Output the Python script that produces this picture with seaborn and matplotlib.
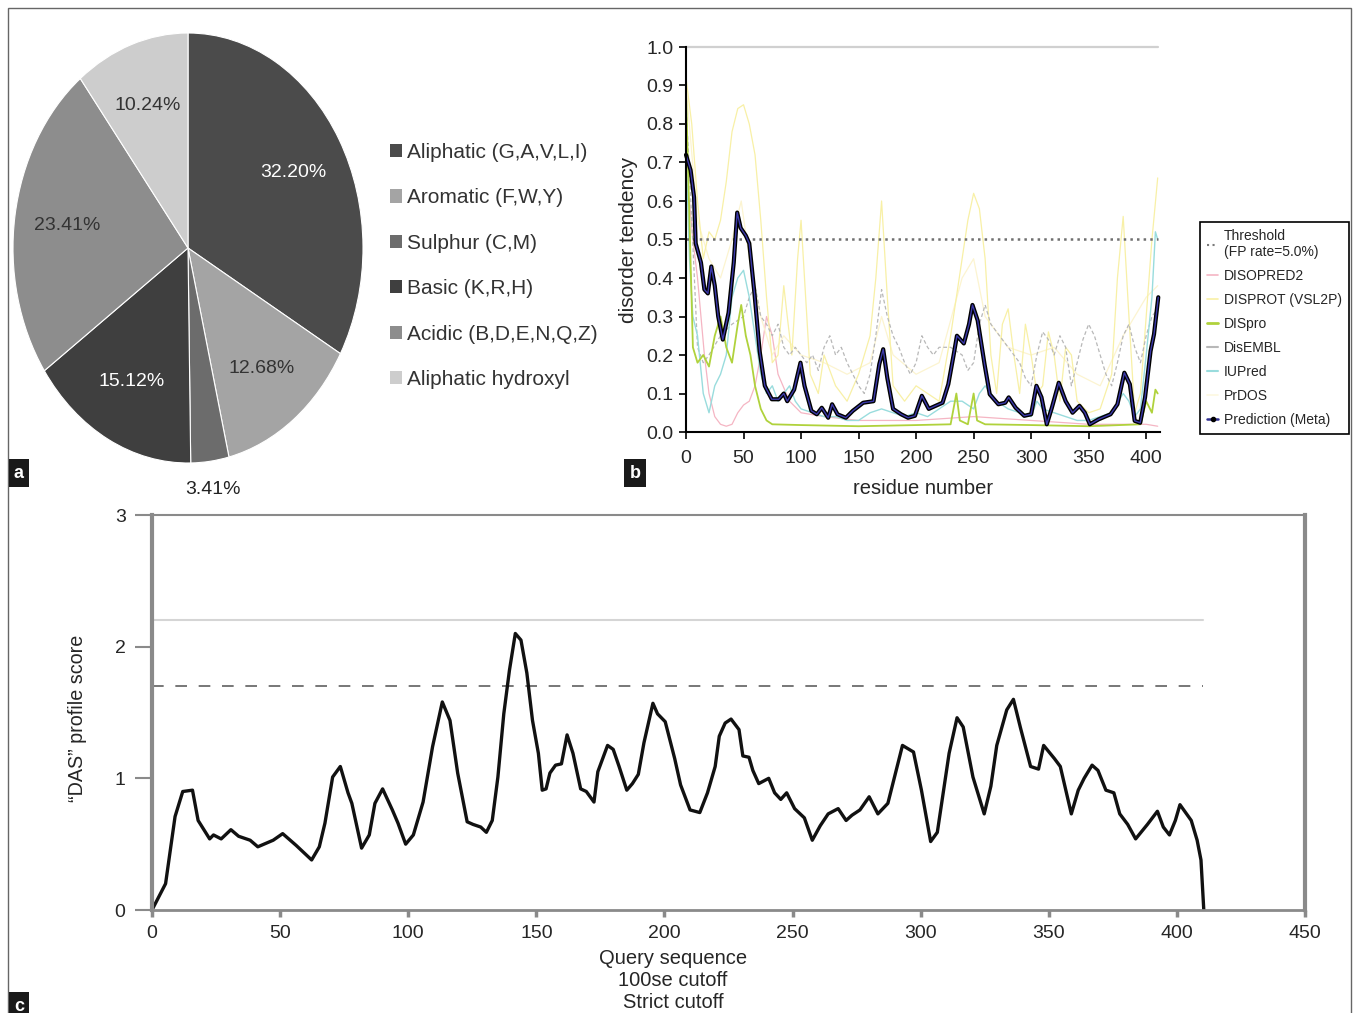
import numpy as np
import pandas as pd
import seaborn as sns
import matplotlib.pyplot as plt
from matplotlib.lines import Line2D
from matplotlib.patches import Patch, Rectangle

# ---- panel a: amino acid composition ----
pie_labels = ["Aliphatic (G,A,V,L,I)", "Aromatic (F,W,Y)", "Sulphur (C,M)",
              "Basic (K,R,H)", "Acidic (B,D,E,N,Q,Z)", "Aliphatic hydroxyl"]
pie_values = [32.20, 12.68, 3.41, 15.12, 23.41, 10.24]
pie_texts = ["32.20%", "12.68%", "3.41%", "15.12%", "23.41%", "10.24%"]
pie_colors = ["#4b4b4b", "#a4a4a4", "#6c6c6c", "#3f3f3f", "#8d8d8d", "#cdcdcd"]
pie_text_colors = ["white", "#333333", "#222222", "white", "#333333", "#333333"]

# ---- panel b: disorder predictors ----
threshold_b = 0.5
top_line_b = 1.0

disopred_x = [0, 3, 6, 10, 13, 16, 20, 25, 30, 35, 40, 45, 50, 55, 60, 65, 70, 75, 80, 90,
              100, 120, 150, 200, 250, 300, 350, 400, 410]
disopred_y = [0.65, 0.60, 0.50, 0.40, 0.30, 0.20, 0.10, 0.04, 0.02, 0.015, 0.02, 0.05, 0.07, 0.08,
              0.12, 0.20, 0.30, 0.25, 0.15, 0.08, 0.05, 0.04, 0.03, 0.03, 0.04, 0.03, 0.02, 0.02, 0.015]

disprot_x = [0, 5, 10, 15, 20, 25, 30, 35, 40, 45, 50, 55, 60, 65, 70, 75, 80, 85, 88, 92, 97, 100,
             103, 108, 115, 120, 130, 140, 150, 160, 165, 170, 175, 180, 190, 200, 210, 220, 230,
             240, 245, 250, 255, 260, 265, 270, 275, 280, 285, 290, 295, 300, 305, 310, 315, 320,
             325, 330, 335, 340, 350, 360, 370, 375, 380, 385, 390, 395, 400, 405, 410]
disprot_y = [0.92, 0.80, 0.60, 0.45, 0.52, 0.50, 0.55, 0.65, 0.78, 0.84, 0.85, 0.80, 0.72, 0.55,
             0.35, 0.18, 0.20, 0.38, 0.30, 0.20, 0.45, 0.55, 0.40, 0.15, 0.10, 0.20, 0.12, 0.08,
             0.15, 0.25, 0.40, 0.60, 0.35, 0.12, 0.08, 0.12, 0.10, 0.08, 0.25, 0.45, 0.55, 0.62,
             0.58, 0.45, 0.20, 0.10, 0.28, 0.32, 0.20, 0.10, 0.28, 0.20, 0.10, 0.12, 0.26, 0.20,
             0.08, 0.22, 0.20, 0.08, 0.05, 0.06, 0.15, 0.40, 0.56, 0.30, 0.05, 0.10, 0.30, 0.50, 0.66]

dispro_x = [0, 3, 6, 10, 15, 20, 25, 30, 35, 40, 45, 48, 52, 56, 60, 65, 70, 75, 100, 150, 200,
            230, 235, 238, 245, 250, 253, 260, 300, 350, 395, 400, 405, 408, 410]
dispro_y = [0.88, 0.55, 0.22, 0.18, 0.20, 0.17, 0.25, 0.30, 0.22, 0.18, 0.28, 0.33, 0.25, 0.20,
            0.12, 0.06, 0.03, 0.02, 0.018, 0.015, 0.018, 0.02, 0.10, 0.03, 0.02, 0.10, 0.03, 0.02,
            0.018, 0.015, 0.02, 0.08, 0.05, 0.11, 0.10]

disembl_x = [0, 5, 10, 15, 20, 30, 40, 50, 55, 60, 65, 70, 75, 80, 85, 90, 95, 100, 105, 110, 115,
             120, 125, 130, 135, 140, 145, 150, 155, 160, 165, 170, 175, 180, 185, 190, 195, 200,
             205, 210, 215, 220, 230, 240, 245, 250, 255, 260, 265, 270, 275, 280, 285, 290, 295,
             300, 305, 310, 315, 320, 325, 330, 335, 340, 345, 350, 355, 360, 365, 370, 375, 380,
             385, 390, 395, 400, 405, 410]
disembl_y = [0.85, 0.55, 0.22, 0.18, 0.20, 0.25, 0.28, 0.30, 0.35, 0.38, 0.30, 0.28, 0.25, 0.28,
             0.22, 0.20, 0.22, 0.20, 0.18, 0.20, 0.16, 0.22, 0.25, 0.20, 0.22, 0.18, 0.15, 0.12,
             0.10, 0.15, 0.25, 0.37, 0.30, 0.25, 0.22, 0.18, 0.15, 0.18, 0.25, 0.22, 0.20, 0.22,
             0.22, 0.20, 0.16, 0.18, 0.28, 0.33, 0.28, 0.26, 0.24, 0.22, 0.20, 0.18, 0.14, 0.12,
             0.20, 0.26, 0.24, 0.20, 0.25, 0.22, 0.12, 0.18, 0.24, 0.28, 0.25, 0.20, 0.15, 0.12,
             0.18, 0.25, 0.28, 0.22, 0.18, 0.25, 0.30, 0.32]

iupred_x = [0, 3, 6, 10, 15, 20, 25, 30, 35, 40, 45, 50, 55, 60, 65, 70, 75, 80, 85, 90, 95, 100,
            110, 120, 130, 140, 150, 160, 170, 180, 190, 200, 210, 220, 230, 240, 250, 255, 260,
            265, 270, 280, 290, 300, 305, 310, 320, 330, 340, 350, 360, 370, 380, 385, 390, 395,
            400, 405, 408, 410]
iupred_y = [0.75, 0.45, 0.30, 0.25, 0.10, 0.05, 0.12, 0.15, 0.20, 0.35, 0.40, 0.42, 0.35, 0.25,
            0.15, 0.10, 0.12, 0.08, 0.10, 0.12, 0.08, 0.06, 0.05, 0.04, 0.04, 0.03, 0.03, 0.05,
            0.06, 0.05, 0.04, 0.05, 0.04, 0.06, 0.08, 0.08, 0.06, 0.10, 0.12, 0.10, 0.08, 0.06,
            0.05, 0.04, 0.08, 0.06, 0.05, 0.04, 0.03, 0.03, 0.04, 0.05, 0.10, 0.08, 0.04, 0.06,
            0.20, 0.35, 0.52, 0.50]

prdos_x = [0, 10, 20, 30, 40, 48, 55, 65, 75, 85, 100, 120, 140, 160, 170, 180, 200, 220, 240,
           250, 260, 280, 300, 320, 340, 360, 380, 400, 410]
prdos_y = [0.90, 0.55, 0.45, 0.40, 0.50, 0.60, 0.45, 0.30, 0.20, 0.25, 0.20, 0.18, 0.15, 0.18,
           0.30, 0.20, 0.15, 0.18, 0.40, 0.45, 0.30, 0.22, 0.20, 0.22, 0.15, 0.12, 0.25, 0.35, 0.38]

meta_x = [0, 4, 7, 8.4, 13, 16, 19, 22, 25, 28, 32, 37, 41.5, 44.5, 47.5, 52, 55, 59.5, 64, 68.5,
          74.6, 80.6, 85, 88, 94, 99.5, 103, 109, 113.7, 118, 123.6, 127, 131.7, 139, 145, 154,
          163, 168, 171.4, 175, 180, 187, 193, 199, 205, 211, 217, 223, 228, 232.5, 235.5, 241.5,
          246, 249, 253.5, 259.5, 264, 271.5, 277.5, 280.5, 286.5, 294, 300, 304.6, 309, 313.6,
          318, 324, 330, 336, 342, 346.7, 351, 358.7, 369, 375, 381, 385.8, 390, 394.8, 399,
          403.8, 406.8, 410.5]
meta_y = [0.72, 0.68, 0.61, 0.49, 0.44, 0.37, 0.36, 0.43, 0.38, 0.30, 0.24, 0.31, 0.44, 0.57,
          0.53, 0.51, 0.49, 0.36, 0.21, 0.12, 0.085, 0.085, 0.10, 0.08, 0.11, 0.18, 0.12, 0.055,
          0.046, 0.063, 0.037, 0.072, 0.046, 0.037, 0.055, 0.076, 0.08, 0.176, 0.215, 0.14, 0.06,
          0.046, 0.037, 0.042, 0.094, 0.06, 0.068, 0.076, 0.124, 0.198, 0.25, 0.23, 0.28, 0.33,
          0.29, 0.176, 0.098, 0.072, 0.076, 0.09, 0.063, 0.042, 0.046, 0.12, 0.09, 0.02, 0.063,
          0.128, 0.08, 0.05, 0.068, 0.05, 0.02, 0.033, 0.046, 0.072, 0.154, 0.124, 0.029, 0.024,
          0.09, 0.21, 0.254, 0.35]

# ---- panel c: DAS profile ----
das_x = [0, 5.3, 9, 12, 15.8, 18, 22.5, 24, 27, 30.8, 33.8, 38.3, 41.3, 47.3, 51, 56.3, 62.3,
         65.3, 67.5, 70.5, 73.5, 76.5, 78, 81.8, 84.8, 87, 90, 93.8, 96, 99, 102, 105.8, 109.5,
         113.3, 116.3, 119.3, 123, 125.3, 128.3, 130.5, 132.8, 135, 137.3, 139.5, 141.8, 144,
         146.3, 148.5, 150.8, 152.3, 153.8, 155.3, 157.5, 159.8, 162, 164.3, 167.3, 169.5, 172.5,
         174, 177.8, 180, 182.3, 185.3, 187.5, 189.8, 192, 195.5, 197.3, 200.3, 204, 206.3, 210,
         213.8, 216.8, 219.8, 221.4, 223.7, 226, 229.1, 230.6, 233, 234.5, 236.8, 240.7, 243,
         245.4, 247.7, 250.8, 254.6, 257.7, 260.8, 263.9, 267.8, 270.9, 273.2, 276.3, 279.9,
         283.3, 287.2, 290.2, 292.9, 297.2, 300.3, 303.9, 306.5, 311.1, 314.2, 316.6, 320.4,
         324.8, 327.4, 329.7, 333.6, 336.2, 339, 342.9, 346, 348, 352.2, 354.5, 358.8, 361.5,
         363.8, 366.9, 369.2, 372.3, 375.4, 377.7, 380.8, 383.9, 388.5, 392.4, 394.7, 397.1,
         399.4, 401.2, 405.6, 407.9, 409.4, 410.5]
das_y = [0.0, 0.20, 0.71, 0.90, 0.91, 0.68, 0.54, 0.57, 0.54, 0.61, 0.56, 0.53, 0.48, 0.53, 0.58,
         0.49, 0.38, 0.48, 0.66, 1.01, 1.09, 0.89, 0.81, 0.47, 0.57, 0.81, 0.92, 0.76, 0.66, 0.50,
         0.57, 0.82, 1.24, 1.58, 1.44, 1.04, 0.67, 0.65, 0.63, 0.59, 0.68, 1.01, 1.49, 1.82, 2.10,
         2.05, 1.80, 1.44, 1.19, 0.91, 0.92, 1.04, 1.10, 1.11, 1.33, 1.19, 0.92, 0.90, 0.82, 1.05,
         1.25, 1.22, 1.09, 0.91, 0.96, 1.03, 1.27, 1.57, 1.49, 1.43, 1.15, 0.95, 0.76, 0.74, 0.89,
         1.09, 1.32, 1.42, 1.45, 1.37, 1.17, 1.16, 1.06, 0.96, 1.00, 0.89, 0.84, 0.89, 0.77, 0.70,
         0.53, 0.64, 0.73, 0.77, 0.68, 0.72, 0.76, 0.86, 0.73, 0.81, 1.04, 1.25, 1.20, 0.91, 0.52,
         0.59, 1.19, 1.46, 1.39, 1.01, 0.73, 0.94, 1.25, 1.52, 1.60, 1.38, 1.09, 1.07, 1.25, 1.15,
         1.09, 0.73, 0.91, 1.00, 1.10, 1.06, 0.91, 0.89, 0.73, 0.65, 0.54, 0.65, 0.75, 0.63, 0.57,
         0.68, 0.80, 0.68, 0.53, 0.38, 0.0]
strict_cutoff = 2.2
loose_cutoff = 1.7
cutoff_range = [0, 410]

W, H = 1353, 1013
sns.set_style("white")
plt.rcParams["font.family"] = ["Liberation Sans", "DejaVu Sans"]

fig = plt.figure(figsize=(W / 100, H / 100), dpi=100)

# frame around the whole figure
fig.patches.append(Rectangle((8 / W, -0.01), 1343 / W, 1.01 - 8 / H, transform=fig.transFigure,
                             fill=False, edgecolor="#666666", linewidth=1))

# ================= panel a =================
ax_a = fig.add_axes([13 / W, 1 - 463 / H, 350 / W, 430 / H])
lbl_iter = iter(pie_texts)
wedges, _, autotexts = ax_a.pie(pie_values, colors=pie_colors, startangle=90, counterclock=False,
                                autopct=lambda p: next(lbl_iter), pctdistance=0.7,
                                wedgeprops=dict(edgecolor="white", linewidth=0.8),
                                textprops=dict(fontsize=14))
ax_a.set_aspect("auto")
ax_a.set_xlim(-1, 1)
ax_a.set_ylim(-1, 1)
for t, c in zip(autotexts, pie_text_colors):
    t.set_color(c)
# the small sulphur slice gets its label outside
w = wedges[2]
mid = np.deg2rad((w.theta1 + w.theta2) / 2)
autotexts[2].set_position((1.13 * np.cos(mid), 1.13 * np.sin(mid)))

handles_a = [Patch(facecolor=c, edgecolor="none") for c in pie_colors]
fig.legend(handles_a, pie_labels, loc="center left", bbox_to_anchor=(371 / W, 1 - 266 / H),
           frameon=False, fontsize=15, handlelength=0.6, handleheight=0.6, handletextpad=0.25,
           labelspacing=1.27, labelcolor="#333333")

# ================= panel b =================
ax_b = fig.add_axes([686 / W, 1 - 432 / H, 474 / W, 385 / H])
series_b = [
    (disopred_x, disopred_y, "#f5b5c3", "-", 0.9),
    (prdos_x, prdos_y, "#fcf4d0", "-", 0.9),
    (disprot_x, disprot_y, "#f8f0a6", "-", 0.9),
    (disembl_x, disembl_y, "#b8b8b8", (0, (3, 2)), 0.9),
    (iupred_x, iupred_y, "#99dcdd", "-", 1.0),
    (dispro_x, dispro_y, "#b0d23c", "-", 1.3),
]
for xs, ys, col, ls, lw in series_b:
    sns.lineplot(x=xs, y=ys, ax=ax_b, color=col, linestyle=ls, linewidth=lw, estimator=None)

sns.lineplot(x=cutoff_range, y=[threshold_b, threshold_b], ax=ax_b, color="#6f6f6f",
             linestyle=":", linewidth=1.8, estimator=None)
sns.lineplot(x=cutoff_range, y=[top_line_b, top_line_b], ax=ax_b, color="#d0d0d0",
             linewidth=1.6, estimator=None)
sns.lineplot(x=meta_x, y=meta_y, ax=ax_b, color="black", linewidth=3.0, estimator=None)
sns.lineplot(x=meta_x, y=meta_y, ax=ax_b, color="#3a38a8", linewidth=1.0, estimator=None)
for ln in ax_b.lines:
    ln.set_clip_on(False)

ax_b.set_xlim(0, 412)
ax_b.set_ylim(0, 1.0)
ax_b.set_xticks([0, 50, 100, 150, 200, 250, 300, 350, 400])
ax_b.set_yticks(np.round(np.arange(0, 1.01, 0.1), 1))
ax_b.set_yticklabels([f"{v:.1f}" for v in ax_b.get_yticks()])
for s in ["top", "right"]:
    ax_b.spines[s].set_visible(False)
for s in ["left", "bottom"]:
    ax_b.spines[s].set_color("black")
    ax_b.spines[s].set_linewidth(1.5)
ax_b.tick_params(axis="y", direction="out", length=5, width=1.2, color="black",
                 labelsize=14, pad=4, left=True)
ax_b.tick_params(axis="x", direction="out", length=5, width=1.2, color="black",
                 labelsize=14, pad=8, bottom=True)
ax_b.set_xlabel("residue number", fontsize=14.5)
ax_b.set_ylabel("disorder tendency", fontsize=15)
ax_b.xaxis.set_label_coords(0.5, -0.123)
ax_b.yaxis.set_label_coords(-0.101, 0.5)

handles_b = [
    Line2D([], [], color="#7a7a7a", linestyle=":", linewidth=1.5),
    Line2D([], [], color="#f5b5c3", linewidth=1.2),
    Line2D([], [], color="#f8f0a6", linewidth=1.2),
    Line2D([], [], color="#b0d23c", linewidth=2),
    Line2D([], [], color="#b8b8b8", linewidth=1.5),
    Line2D([], [], color="#99dcdd", linewidth=1.5),
    Line2D([], [], color="#fdf8e0", linewidth=1.2),
    Line2D([], [], color="#2e2d8f", linewidth=1.8, marker="o", markersize=3,
           markerfacecolor="black", markeredgecolor="black"),
]
labels_b = ["Threshold\n(FP rate=5.0%)", "DISOPRED2", "DISPROT (VSL2P)", "DISpro", "DisEMBL",
            "IUPred", "PrDOS", "Prediction (Meta)"]
leg_b = ax_b.legend(handles_b, labels_b, loc="upper left", bbox_to_anchor=(1200 / W, 1 - 222 / H),
                    bbox_transform=fig.transFigure, fontsize=10, frameon=True, fancybox=False,
                    edgecolor="black", borderpad=0.5, labelspacing=0.72, handlelength=0.8,
                    handletextpad=0.4, borderaxespad=0)
leg_b.get_frame().set_linewidth(1.2)
leg_b.get_frame().set_alpha(1)

# ================= panel c =================
ax_c = fig.add_axes([152 / W, 1 - 910 / H, 1153 / W, 395 / H])
sns.lineplot(x=cutoff_range, y=[strict_cutoff, strict_cutoff], ax=ax_c, color="#d5d5d5",
             linewidth=1.5, estimator=None)
sns.lineplot(x=cutoff_range, y=[loose_cutoff, loose_cutoff], ax=ax_c, color="#777777",
             linestyle=(0, (6, 6)), linewidth=1.4, estimator=None)
sns.lineplot(x=das_x, y=das_y, ax=ax_c, color="#111111", linewidth=2.4, estimator=None)
ax_c.set_xlim(0, 450)
ax_c.set_ylim(0, 3)
ax_c.set_xticks([0, 50, 100, 150, 200, 250, 300, 350, 400, 450])
ax_c.set_yticks([0, 1, 2, 3])
for s, lw in [("left", 3), ("right", 3), ("top", 1.5), ("bottom", 2)]:
    ax_c.spines[s].set_visible(True)
    ax_c.spines[s].set_color("#8a8a8a")
    ax_c.spines[s].set_linewidth(lw)
ax_c.tick_params(axis="y", direction="out", length=12, width=1.5, color="#8a8a8a",
                 labelsize=14, pad=7, left=True)
ax_c.tick_params(axis="x", direction="out", length=5, width=2.5, color="#8a8a8a",
                 labelsize=14, pad=6, bottom=True)
ax_c.set_ylabel("\u201cDAS\u201d profile score", fontsize=14.2)
ax_c.yaxis.set_label_coords(-0.056, 0.486)
ax_c.set_xlabel("Query sequence\n100se cutoff\nStrict cutoff", fontsize=14.5, linespacing=1.2)
ax_c.xaxis.set_label_coords(0.452, -0.098)

# panel letters
for letter, (px, py) in {"a": (19, 473), "b": (635, 473), "c": (19, 1006)}.items():
    fig.text(px / W, 1 - py / H, letter, color="white", fontsize=13, fontweight="bold",
             ha="center", va="center",
             bbox=dict(boxstyle="square,pad=0.3", facecolor="#1a1a1a", edgecolor="none"))

fig.savefig("out.png", dpi=100)
